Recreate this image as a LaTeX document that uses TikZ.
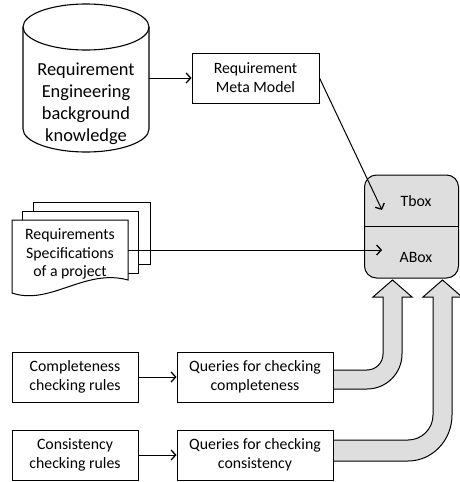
\documentclass[tikz,border=0pt]{standalone}
\usepackage{fontspec}
\setmainfont{Carlito}
\usetikzlibrary{arrows.meta}
\begin{document}
\begin{tikzpicture}[x=1pt,y=-1pt,
  box/.style={draw, line width=1pt, fill=white, align=center, inner sep=0pt, font=\fontsize{15.8}{18.8}\selectfont},
  plain/.style={align=center, inner sep=0pt, font=\fontsize{15.8}{18.8}\selectfont},
  arr/.style={-{Straight Barb[length=4.5pt,width=10pt,line width=1.3pt]}, line width=1pt},
  blockarrow/.style={draw, line width=1pt, fill=black!13, line join=miter},
  sheet/.style={draw, line width=1pt, fill=white}]
\useasboundingbox (0,0) rectangle (459,482);

% cylinder
\draw[line width=1.1pt, fill=white] (23,27) -- (23,129) arc[start angle=180, end angle=0, x radius=63, y radius=23] -- (149,27);
\draw[line width=1.1pt] (86,27) ellipse[x radius=63, y radius=23];
\node[plain, font=\fontsize{18.4}{22}\selectfont] (kb) at (86,104) {Requirement\\Engineering\\background\\knowledge};
\coordinate (kbE) at (149,78);

% meta model
\node[box, minimum width=127pt, minimum height=50pt] (meta) at (255.5,78) {Requirement\\Meta Model};
\draw[arr] (kbE) -- (meta.west);

% block arrows (behind boxes)
\draw[blockarrow] (333,370) -- (367,370) arc[start angle=90, end angle=0, radius=16] -- (383,297) -- (373,297) -- (392.5,280) -- (412,297) -- (402,297) -- (402,354) arc[start angle=0, end angle=90, radius=35] -- (333,389) -- cycle;
\draw[blockarrow] (333,440) -- (408,440) arc[start angle=90, end angle=0, x radius=25, y radius=25] -- (433,297) -- (423,297) -- (442.5,280) -- (462,297) -- (452,297) -- (452,415) arc[start angle=0, end angle=90, x radius=44, y radius=46] -- (333,461) -- cycle;

% knowledge base
\node[draw, line width=1pt, fill=black!13, rounded corners=12pt, minimum width=94pt, minimum height=103pt, inner sep=0pt] (kbox) at (411.5,226.5) {};
\draw[line width=1pt] (kbox.west) -- (kbox.east);
\node[plain] (tbox) at (416,201) {Tbox};
\node[plain] (abox) at (416,257) {ABox};
\coordinate (tboxin) at (382,210);
\coordinate (aboxin) at (382,250);
\draw[arr] (meta.east) -- (tboxin);

% document stack
\draw[sheet] (33,202) rectangle (150,264);
\draw[sheet] (22,211) rectangle (138,273);
\draw[sheet] (12,220) -- (128,220) -- (128,280) .. controls (85,268) and (50,306) .. (12,293) -- cycle;
\node[plain, minimum width=116pt, minimum height=60pt] (spec) at (70,250) {};
\node[plain] (spectext) at (70,254) {Requirements\\Specifications\\of a project};
\draw[arr] (spec.east) -- (aboxin);

% bottom rows
\node[box, minimum width=126pt, minimum height=50pt] (cr1) at (75,377) {Completeness\\checking rules};
\node[box, minimum width=156pt, minimum height=50pt] (q1) at (255,377) {Queries for checking\\completeness};
\node[box, minimum width=126pt, minimum height=50pt] (cr2) at (75,455) {Consistency\\checking rules};
\node[box, minimum width=156pt, minimum height=50pt] (q2) at (255,455) {Queries for checking\\consistency};
\draw[arr] (cr1) -- (q1);
\draw[arr] (cr2) -- (q2);
\end{tikzpicture}
\end{document}
